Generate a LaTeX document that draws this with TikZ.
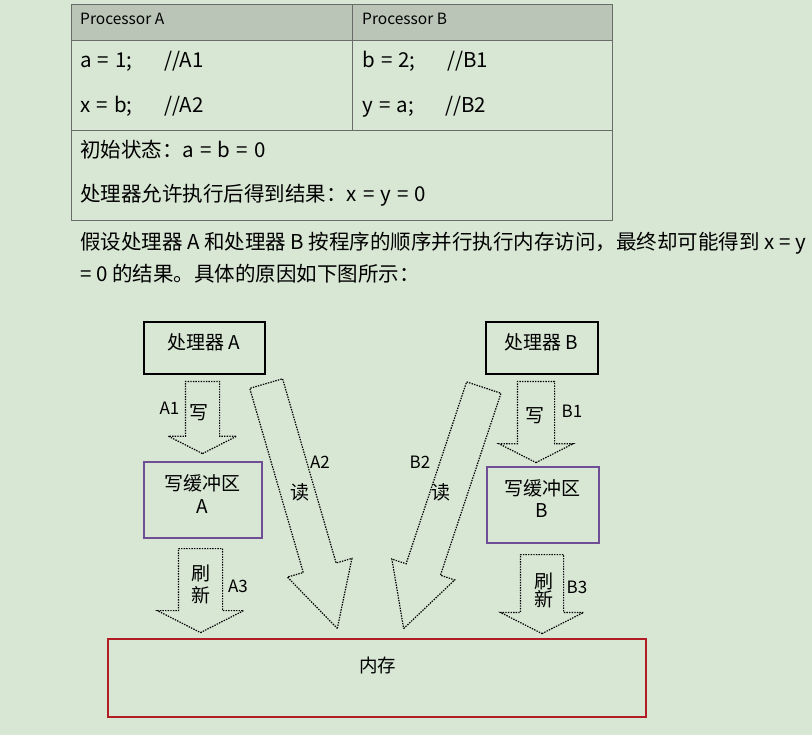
\documentclass[tikz,border=0pt]{standalone}
\usepackage{fontspec}
\setmainfont{Noto Sans CJK SC}
\usetikzlibrary{shapes.arrows}
\definecolor{pagebg}{RGB}{216,230,212}
\definecolor{headbg}{RGB}{186,197,184}
\definecolor{gridln}{RGB}{105,108,104}
\definecolor{bufline}{RGB}{112,78,150}
\definecolor{memline}{RGB}{178,28,36}
\newcommand\cellfont{\fontsize{20.5}{24}\selectfont\setlength\spaceskip{0.3em plus 0.1em}}
\tikzset{
  hdr/.style={anchor=base west, inner sep=0pt, font=\fontsize{15.5}{18}\selectfont},
  cell/.style={anchor=base west, inner sep=0pt, font=\cellfont},
  para/.style={anchor=base west, inner sep=0pt, font=\fontsize{20.5}{24}\selectfont},
  proc/.style={rectangle, draw=black, line width=1.2pt, minimum height=52pt},
  buf/.style={rectangle, draw=bufline, line width=1.3pt, minimum height=76pt},
  mem/.style={rectangle, draw=memline, line width=1.3pt, minimum width=538pt, minimum height=78pt},
  txt/.style={anchor=base, inner sep=0pt, font=\fontsize{19}{22}\selectfont},
  tag/.style={anchor=base, inner sep=0pt, font=\fontsize{17}{20}\selectfont},
  flow/.style={single arrow, draw=black, line width=1.2pt, dash pattern=on 1.4pt off 1.2pt, inner xsep=0pt, minimum width=0pt, anchor=tail},
  vflow/.style={flow, rotate=-90, single arrow tip angle=126},
  rflow/.style={flow, single arrow tip angle=56}
}
\begin{document}
\begin{tikzpicture}[x=1pt, y=-1pt]
\useasboundingbox (0,0) rectangle (812,735);
\fill[pagebg] (0,0) rectangle (812,735);

% table
\fill[headbg] (71,5) rectangle (612,41);
\draw[gridln, line width=1pt] (71,5) rectangle (612,221);
\draw[gridln, line width=1pt] (71,41) -- (612,41) (71,131) -- (612,131) (352,5) -- (352,131);
\node[hdr] (hA) at (80,25) {Processor A};
\node[hdr] (hB) at (362,25) {Processor B};
\node[cell] (a1) at (80,68) {\makebox[84.5pt][l]{a = 1;}//A1};
\node[cell] (a2) at (80,113) {\makebox[84.5pt][l]{x = b;}//A2};
\node[cell] (b1) at (362,68) {\makebox[85pt][l]{b = 2;}//B1};
\node[cell] (b2) at (362,113) {\makebox[83pt][l]{y = a;}//B2};
\node[cell] (init) at (80,158) {初始状态：a = b = 0};
\node[cell] (res) at (80,202) {处理器允许执行后得到结果：x = y = 0};

\node[para] (para1) at (80,250) {假设处理器 A 和处理器 B 按程序的顺序并行执行内存访问，最终却可能得到 x = y};
\node[para] (para2) at (80,282) {= 0 的结果。具体的原因如下图所示：};

% processors and buffers
\node[proc, minimum width=121pt] (procA) at (204.5,348) {};
\node[proc, minimum width=112pt] (procB) at (542,348) {};
\node[txt] (procAt) at (203.5,350) {处理器 A};
\node[txt] (procBt) at (541.5,350) {处理器 B};

\node[buf, minimum width=118pt] (bufA) at (203,500) {};
\node[buf, minimum width=112pt] (bufB) at (543,505) {};
\node[txt] (bufAt) at (202.5,490) {写缓冲区};
\node[txt] (bufAt2) at (202,513) {A};
\node[txt] (bufBt) at (542,496) {写缓冲区};
\node[txt] (bufBt2) at (542,518) {B};

\node[mem] (mem) at (377,678) {};
\node[txt, font=\fontsize{18.5}{22}\selectfont] (memt) at (377.5,672) {内存};

% write / flush arrows
\node[vflow, minimum height=72pt, inner ysep=16.5pt, single arrow head extend=17pt] (wA) at (202.5,381) {};
\node[vflow, minimum height=84pt, inner ysep=21.5pt, single arrow head extend=21pt] (fA) at (200.5,548) {};
\node[vflow, minimum height=81pt, inner ysep=18pt, single arrow head extend=18.5pt] (wB) at (536,381) {};
\node[vflow, minimum height=79pt, inner ysep=21pt, single arrow head extend=20pt] (fB) at (542,554) {};

% read arrows
\node[rflow, rotate=-73.8, minimum height=255pt, inner ysep=16.5pt, single arrow head extend=16.5pt] (rA) at (266,383) {};
\node[rflow, rotate=-108.4, minimum height=254pt, inner ysep=17.5pt, single arrow head extend=15pt] (rB) at (484,387) {};

% labels
\node[tag] (lA1) at (169.5,415) {A1};
\node[txt] (lwA) at (198.5,420) {写};
\node[tag] (lA2) at (320,468) {A2};
\node[txt] (lrA) at (300,500) {读};
\node[txt] (lfA1) at (201,580) {刷};
\node[txt] (lfA2) at (201,602) {新};
\node[tag] (lA3) at (238,592) {A3};

\node[tag] (lB1) at (572,418) {B1};
\node[txt] (lwB) at (535,423) {写};
\node[tag] (lB2) at (420,468) {B2};
\node[txt] (lrB) at (441,500) {读};
\node[txt] (lfB1) at (544,588) {刷};
\node[txt] (lfB2) at (544,606) {新};
\node[tag] (lB3) at (577,593) {B3};
\end{tikzpicture}
\end{document}
